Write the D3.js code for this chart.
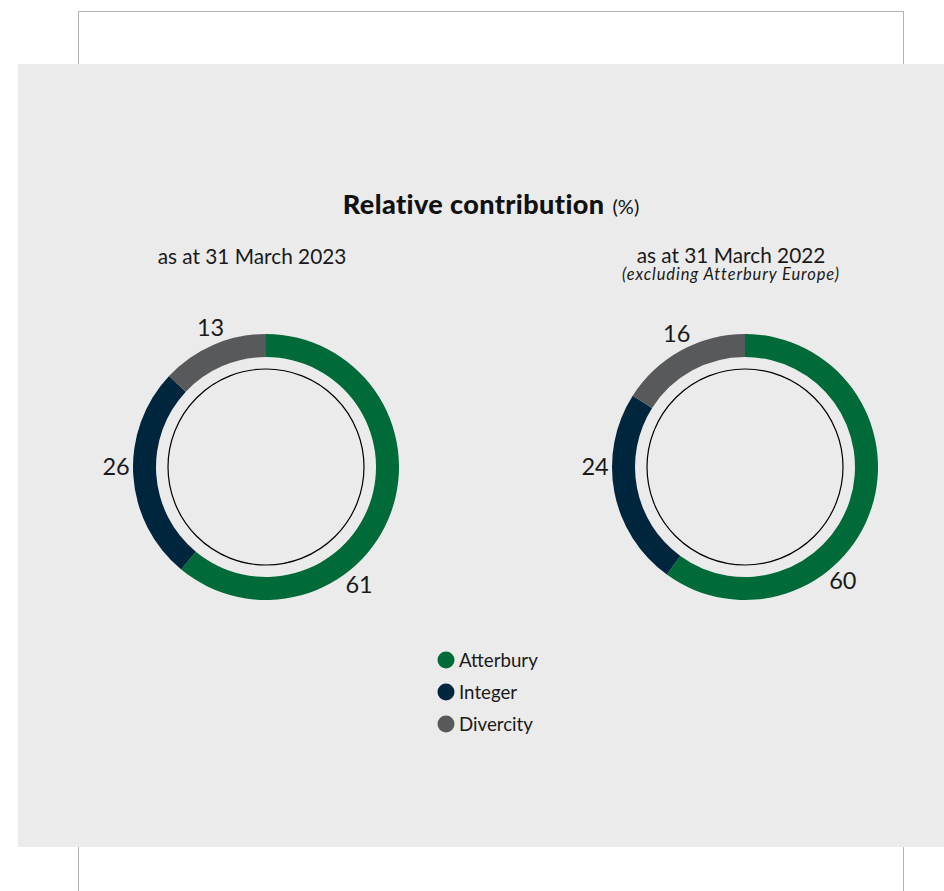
<!DOCTYPE html>
<html>
<head>
<meta charset="utf-8">
<script src="https://cdn.jsdelivr.net/npm/d3@7"></script>
<style>
  html, body { margin: 0; padding: 0; background: #ffffff; }
  svg { display: block; font-family: Lato, "Open Sans", sans-serif; }
</style>
</head>
<body>
<svg id="chart" width="944" height="891"></svg>
<script>
// ---- data ----
const categories = ["Atterbury", "Integer", "Divercity"];
const colors = ["#006a38", "#00263e", "#58595b"];
const values2023 = [61, 26, 13];
const values2022 = [60, 24, 16];
const titleMain = "Relative contribution";
const titleUnit = "(%)";
const subtitle2023 = "as at 31 March 2023";
const subtitle2022 = "as at 31 March 2022";
const note2022 = "(excluding Atterbury Europe)";

const svg = d3.select("#chart");

// page frame
svg.append("line").attr("x1", 78.5).attr("x2", 903.5).attr("y1", 11.5).attr("y2", 11.5)
  .attr("stroke", "#b3b3b3").attr("stroke-width", 1);
svg.append("line").attr("x1", 78.5).attr("x2", 78.5).attr("y1", 11).attr("y2", 891)
  .attr("stroke", "#b3b3b3").attr("stroke-width", 1);
svg.append("line").attr("x1", 903.5).attr("x2", 903.5).attr("y1", 11).attr("y2", 891)
  .attr("stroke", "#b3b3b3").attr("stroke-width", 1);
// grey panel
svg.append("rect").attr("x", 18).attr("y", 64).attr("width", 926).attr("height", 783)
  .attr("fill", "#ebebeb");

// title
const title = svg.append("text").attr("x", 491).attr("y", 214).attr("text-anchor", "middle")
  .attr("fill", "#111");
title.append("tspan").attr("font-weight", 900).attr("font-size", 27).attr("letter-spacing", 0.4).text(titleMain);
title.append("tspan").attr("font-size", 20).attr("dx", 8).attr("font-weight", 400).text(titleUnit);

// subtitles
svg.append("text").attr("x", 252).attr("y", 264).attr("text-anchor", "middle")
  .attr("font-size", 20.8).attr("fill", "#1a1a1a").text(subtitle2023);
const sub2 = svg.append("text").attr("x", 731).attr("y", 263).attr("text-anchor", "middle")
  .attr("fill", "#1a1a1a");
sub2.append("tspan").attr("x", 731).attr("font-size", 20.8).text(subtitle2022);
sub2.append("tspan").attr("x", 731).attr("dy", 17).attr("font-size", 16.5)
  .attr("font-style", "italic").attr("letter-spacing", 0.9).text(note2022);

// donuts
const outerR = 133, innerR = 110, circleR = 98, labelR = 150;
const pie = d3.pie().sort(null).value(d => d);
const arc = d3.arc().innerRadius(innerR).outerRadius(outerR);
// label angle rule: Atterbury label sits toward lower right, Integer at 9 o'clock, Divercity near mid-angle
function labelAngle(d, i) {
  if (i === 0) return d.startAngle + (d.endAngle - d.startAngle) * 0.645;
  if (i === 1) return 1.5 * Math.PI;
  return (d.startAngle + d.endAngle) / 2 + 0.03;
}

function donut(values, cx, cy) {
  const g = svg.append("g").attr("transform", `translate(${cx},${cy})`);
  const arcs = pie(values);
  g.selectAll("path").data(arcs).join("path")
    .attr("d", arc).attr("fill", (d, i) => colors[i]);
  g.append("circle").attr("r", circleR).attr("fill", "none")
    .attr("stroke", "#000").attr("stroke-width", 1.2);
  g.selectAll("text.lbl").data(arcs).join("text").attr("class", "lbl")
    .attr("x", (d, i) => labelR * Math.sin(labelAngle(d, i)))
    .attr("y", (d, i) => -labelR * Math.cos(labelAngle(d, i)))
    .attr("dy", "0.35em")
    .attr("text-anchor", "middle")
    .attr("font-size", 23.5).attr("fill", "#1a1a1a")
    .text(d => d.data);
}
donut(values2023, 266, 467);
donut(values2022, 745, 467);

// legend
const legend = svg.append("g").attr("transform", "translate(446,660)");
const ly = d3.scaleBand().domain(categories).range([0, 96]);
const items = legend.selectAll("g").data(categories).join("g")
  .attr("transform", d => `translate(0,${ly(d)})`);
items.append("circle").attr("r", 8.5).attr("fill", (d, i) => colors[i]);
items.append("text").attr("x", 13).attr("dy", "0.35em").attr("font-size", 18.7)
  .attr("fill", "#1a1a1a").text(d => d);
</script>
</body>
</html>
